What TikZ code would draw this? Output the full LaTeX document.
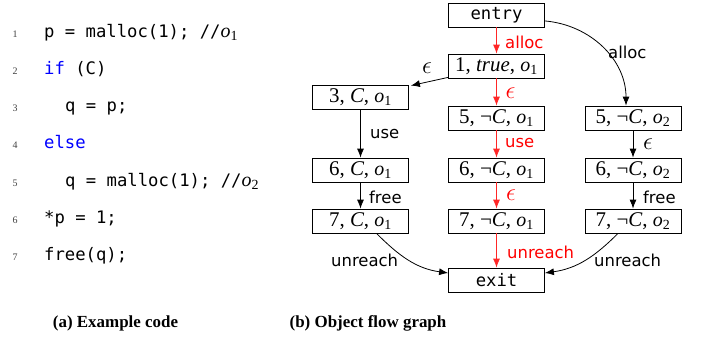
\documentclass[tikz,border=0pt]{standalone}
\usepackage{fontspec}
\setmainfont{Liberation Serif}
\setsansfont{DejaVu Sans}
\setmonofont{DejaVu Sans Mono}
\usetikzlibrary{arrows.meta}
\begin{document}
\begin{tikzpicture}[x=1bp,y=-1bp,
  box/.style={draw, line width=0.8bp, minimum width=96bp, minimum height=24bp, inner sep=0pt, font=\fontsize{21}{24}\selectfont},
  monobox/.style={box, font=\ttfamily\fontsize{17.3}{20}\selectfont},
  code/.style={anchor=base west, inner sep=0pt, font=\ttfamily\fontsize{17.3}{20}\selectfont},
  lnum/.style={anchor=base, inner sep=0pt, text=black!75, font=\fontsize{10}{12}\selectfont},
  lbl/.style={anchor=base west, inner sep=0pt, font=\sffamily\fontsize{16.5}{19}\selectfont},
  elbl/.style={inner sep=0pt, font=\fontsize{24}{26}\selectfont},
  captext/.style={anchor=base, inner sep=0pt, font=\bfseries\fontsize{17}{20}\selectfont},
  arr/.style={-{Latex[length=9bp,width=7bp]}, line width=0.8bp},
  redarr/.style={arr, draw=red!85!white, fill=red!85!white}
]
\useasboundingbox (0,0) rectangle (705,339);
\newcommand{\osub}[1]{{\rmfamily\fontsize{20}{20}\selectfont\textit{o}\textsubscript{#1}}}
% code
\node[lnum] (l1) at (15,37.5) {1};
\node[lnum] (l2) at (15,74.5) {2};
\node[lnum] (l3) at (15,111.5) {3};
\node[lnum] (l4) at (15,148.5) {4};
\node[lnum] (l5) at (15,186) {5};
\node[lnum] (l6) at (15,223) {6};
\node[lnum] (l7) at (15,260) {7};
\node[code] (c1) at (44,37.5) {p = malloc(1); //\osub{1}};
\node[code] (c2) at (44,74.5) {\textcolor{blue}{if} (C)};
\node[code] (c3) at (65,111.5) {q = p;};
\node[code] (c4) at (44,148.5) {\textcolor{blue}{else}};
\node[code] (c5) at (65,186) {q = malloc(1); //\osub{2}};
\node[code] (c6) at (44,223) {*p = 1;};
\node[code] (c7) at (44,260) {free(q);};
% graph nodes
\node[monobox] (entry) at (496.5,15) {entry};
\node[box] (n1) at (496.5,66) {1, \textit{true}, \osub{1}};
\node[box] (n3) at (360.5,97) {3, \textit{C}, \osub{1}};
\node[box] (n5a) at (496.5,118) {5, ¬\textit{C}, \osub{1}};
\node[box] (n5b) at (633,118) {5, ¬\textit{C}, \osub{2}};
\node[box] (n6a) at (360.5,170) {6, \textit{C}, \osub{1}};
\node[box] (n6b) at (496.5,170) {6, ¬\textit{C}, \osub{1}};
\node[box] (n6c) at (633,170) {6, ¬\textit{C}, \osub{2}};
\node[box] (n7a) at (360.5,221) {7, \textit{C}, \osub{1}};
\node[box] (n7b) at (496.5,221) {7, ¬\textit{C}, \osub{1}};
\node[box] (n7c) at (633,221) {7, ¬\textit{C}, \osub{2}};
\node[monobox] (exit) at (496.5,280) {exit};
% red path
\draw[redarr] (entry) -- (n1);
\draw[redarr] (n1) -- (n5a);
\draw[redarr] (n5a) -- (n6b);
\draw[redarr] (n6b) -- (n7b);
\draw[redarr] (n7b) -- (exit);
% black edges
\draw[arr] (entry.-7) to[out=-5,in=90] ([xshift=-7bp]n5b.north);
\draw[arr] ([yshift=1bp]n1.south west) -- ([xshift=2bp,yshift=-1bp]n3.north east);
\draw[arr] (n3) -- (n6a);
\draw[arr] (n6a) -- (n7a);
\draw[arr] (n5b) -- (n6c);
\draw[arr] (n6c) -- (n7c);
\draw[arr] ([xshift=16bp]n7a.south) to[out=-45,in=172] ([yshift=7bp]exit.west);
\draw[arr] ([xshift=-15bp]n7c.south) to[out=-135,in=8] ([yshift=7bp]exit.east);
% labels
\node[lbl, text=red] (la1) at (505,48) {alloc};
\node[lbl] (la2) at (608,58) {alloc};
\node[elbl] (le1) at (427,68) {$\epsilon$};
\node[elbl, text=red] (le2) at (510.5,93) {$\epsilon$};
\node[lbl] (lu1) at (370,138) {use};
\node[lbl, text=red] (lu2) at (505,147) {use};
\node[elbl] (le3) at (648,144) {$\epsilon$};
\node[lbl] (lf1) at (369,203) {free};
\node[elbl, text=red] (le4) at (511,195) {$\epsilon$};
\node[lbl] (lf2) at (643,203) {free};
\node[lbl, text=red] (lr1) at (507,258) {unreach};
\node[lbl] (lr2) at (331,266) {unreach};
\node[lbl] (lr3) at (594,266) {unreach};
% captions
\node[captext] (capa) at (115.5,327) {(a) Example code};
\node[captext] (capb) at (368,327) {(b) Object flow graph};
\end{tikzpicture}
\end{document}
